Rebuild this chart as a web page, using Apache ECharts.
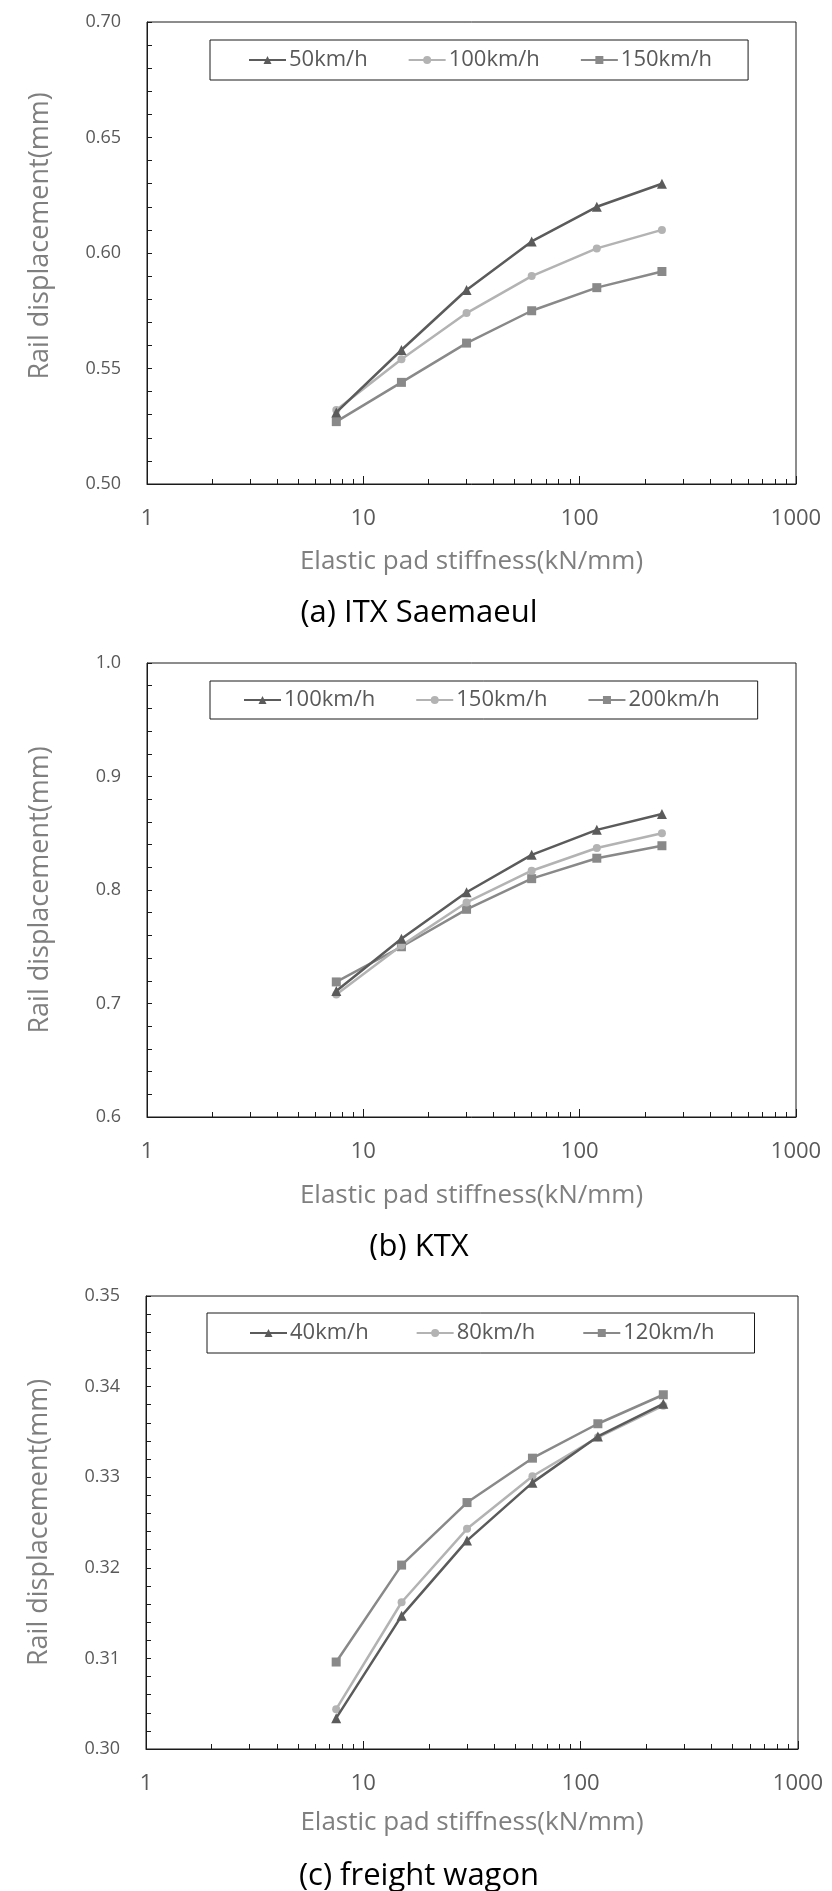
<!DOCTYPE html>
<html><head><meta charset="utf-8">
<script src="https://cdn.jsdelivr.net/npm/echarts@6/dist/echarts.min.js"></script>
<style>html,body{margin:0;padding:0;background:#fff;} .c{position:absolute;left:0;width:832px;}</style>
</head><body>
<div id="c1" class="c" style="top:0;height:630px"></div>
<div id="c2" class="c" style="top:630px;height:630px"></div>
<div id="c3" class="c" style="top:1260px;height:631px"></div>
<script>
// ---- shared data ----
const stiffness = [7.5, 15, 30, 60, 120, 240];
const xTickLabels = [1, 10, 100, 1000];
const xMinorTicks = [2, 3, 4, 5, 6, 7, 8, 9, 20, 30, 40, 50, 60, 70, 80, 90, 200, 300, 400, 500, 600, 700, 800, 900];
const xAxisTitle = 'Elastic pad stiffness(kN/mm)';
const yAxisTitle = 'Rail displacement(mm)';

// ---- (a) ITX Saemaeul ----
const itxSpeeds = ['50km/h', '100km/h', '150km/h'];
const itx50 = [0.531, 0.558, 0.584, 0.605, 0.620, 0.630];
const itx100 = [0.532, 0.554, 0.574, 0.590, 0.602, 0.610];
const itx150 = [0.527, 0.544, 0.561, 0.575, 0.585, 0.592];
const itxYTicks = [0.50, 0.70, 0.05];

// ---- (b) KTX ----
const ktxSpeeds = ['100km/h', '150km/h', '200km/h'];
const ktx100 = [0.711, 0.757, 0.798, 0.831, 0.853, 0.867];
const ktx150 = [0.708, 0.751, 0.789, 0.817, 0.837, 0.850];
const ktx200 = [0.719, 0.750, 0.783, 0.810, 0.828, 0.839];
const ktxYTicks = [0.6, 1.0, 0.1];

// ---- (c) freight wagon ----
const frSpeeds = ['40km/h', '80km/h', '120km/h'];
const fr40 = [0.3034, 0.3147, 0.3230, 0.3294, 0.3345, 0.3381];
const fr80 = [0.3044, 0.3162, 0.3243, 0.3301, 0.3344, 0.3379];
const fr120 = [0.3096, 0.3203, 0.3272, 0.3321, 0.3359, 0.3391];
const frYTicks = [0.30, 0.35, 0.01];

const colors = ['#5b5b5b', '#b3b3b3', '#898989'];
const symbols = ['triangle', 'circle', 'rect'];
const symbolSizes = [10, 8, 9];
const FONT = 'Open Sans';

function buildOption(cfg) {
  const series = cfg.names.map((n, i) => ({
    name: n,
    type: 'line',
    xAxisIndex: 0,
    yAxisIndex: 0,
    data: stiffness.map((x, j) => [x, cfg.values[i][j]]),
    symbol: symbols[i],
    symbolSize: symbolSizes[i],
    showSymbol: true,
    lineStyle: { color: colors[i], width: 2.5 },
    itemStyle: { color: colors[i] },
    animation: false,
    z: 3 + (2 - i)
  }));
  return {
    animation: false,
    textStyle: { fontFamily: FONT },
    grid: {
      left: cfg.grid.left, top: cfg.grid.top, width: cfg.grid.width, height: cfg.grid.height,
      show: true, borderColor: '#1a1a1a', borderWidth: 1, backgroundColor: 'transparent'
    },
    legend: {
      data: cfg.names,
      left: cfg.legend.left, top: cfg.legend.top,
      orient: 'horizontal',
      borderColor: '#1a1a1a', borderWidth: 1,
      padding: cfg.legend.padding,
      itemGap: cfg.legend.gap,
      itemWidth: 37, itemHeight: 10,
      textStyle: { fontFamily: FONT, fontSize: 22, color: '#595959', padding: [0, 0, 0, -2] },
      selectedMode: false
    },
    xAxis: [{
      type: 'log', logBase: 10, min: 1, max: 1000, gridIndex: 0, position: 'bottom',
      axisLine: { show: true, lineStyle: { color: '#1a1a1a', width: 1 } },
      axisTick: { show: true, inside: true, length: 8, lineStyle: { color: '#1a1a1a' }, customValues: xTickLabels },
      axisLabel: { show: true, margin: cfg.xLabelMargin, fontSize: 22, color: '#595959', fontFamily: FONT,
        customValues: xTickLabels, formatter: v => String(v) },
      splitLine: { show: false },
      name: xAxisTitle, nameLocation: 'middle', nameGap: cfg.xNameGap,
      nameTextStyle: { fontSize: 26, color: '#7f7f7f', fontFamily: FONT }
    }, {
      type: 'log', logBase: 10, min: 1, max: 1000, gridIndex: 0, position: 'bottom',
      axisLine: { show: false },
      axisTick: { show: true, inside: true, length: 5, lineStyle: { color: '#1a1a1a' }, customValues: xMinorTicks },
      axisLabel: { show: false },
      splitLine: { show: false }
    }],
    yAxis: [{
      type: 'value', min: cfg.yTicks[0], max: cfg.yTicks[1], interval: cfg.yTicks[2], gridIndex: 0,
      axisLine: { show: true, lineStyle: { color: '#1a1a1a', width: 1 } },
      axisTick: { show: true, inside: true, length: 5, lineStyle: { color: '#1a1a1a' } },
      minorTick: { show: true, splitNumber: 5, length: 5, lineStyle: { color: '#1a1a1a' } },
      axisLabel: { margin: 26, fontSize: 18, color: '#595959', fontFamily: FONT,
        formatter: v => v.toFixed(cfg.decimals) },
      splitLine: { show: false },
      name: yAxisTitle, nameLocation: 'middle', nameGap: cfg.yNameGap, nameRotate: 90,
      nameTextStyle: { fontSize: 27, color: '#7f7f7f', fontFamily: FONT, padding: cfg.yNamePad }
    }],
    graphic: [{
      type: 'text', x: 419, y: cfg.captionY,
      style: { text: cfg.caption, fontSize: 31, fill: '#000', fontFamily: FONT,
        textAlign: 'center', textVerticalAlign: 'middle' }
    }],
    series: series
  };
}

const charts = [
  { id: 'c1', names: itxSpeeds, values: [itx50, itx100, itx150], yTicks: itxYTicks, decimals: 2,
    grid: { left: 147, top: 22, width: 649, height: 462 },
    legend: { left: 210, top: 40, padding: [9, 36, 9, 38], gap: 40 },
    xLabelMargin: 24, xNameGap: 65, yNameGap: 93, yNamePad: [0, 0, 0, 34],
    caption: '(a) ITX Saemaeul', captionY: 613 },
  { id: 'c2', names: ktxSpeeds, values: [ktx100, ktx150, ktx200], yTicks: ktxYTicks, decimals: 1,
    grid: { left: 147, top: 33, width: 649, height: 454 },
    legend: { left: 210, top: 51, padding: [8, 38, 8, 33], gap: 40 },
    xLabelMargin: 24, xNameGap: 66, yNameGap: 93, yNamePad: [0, 0, 0, 0],
    caption: '(b) KTX', captionY: 617 },
  { id: 'c3', names: frSpeeds, values: [fr40, fr80, fr120], yTicks: frYTicks, decimals: 2,
    grid: { left: 146, top: 36, width: 652, height: 453 },
    legend: { left: 207, top: 53, padding: [9, 40, 9, 42], gap: 47 },
    xLabelMargin: 24, xNameGap: 61, yNameGap: 93, yNamePad: [0, 0, 0, 0],
    caption: '(c) freight wagon', captionY: 616 }
];

charts.forEach(cfg => {
  const ch = echarts.init(document.getElementById(cfg.id), null, { renderer: 'canvas' });
  ch.setOption(buildOption(cfg));
});
</script>
</body></html>
